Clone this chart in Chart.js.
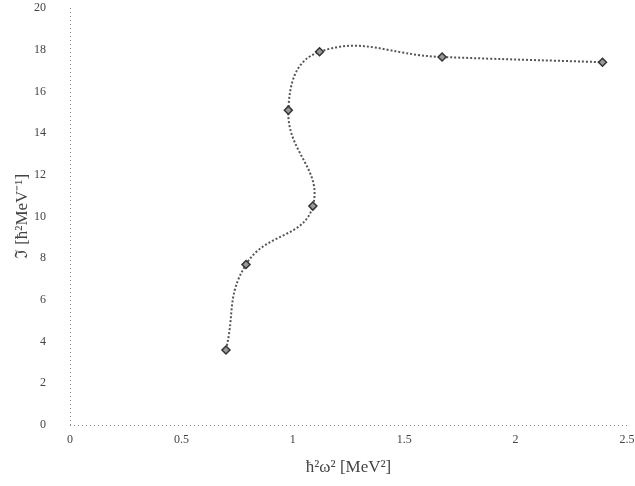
<!DOCTYPE html>
<html>
<head>
<meta charset="utf-8">
<script src="https://cdn.jsdelivr.net/npm/chart.js@4/dist/chart.umd.min.js"></script>
<style>
    html, body { margin: 0; padding: 0; background: #fff; }
    #wrap { width: 635px; height: 486px; }
</style>
</head>
<body>
<div id="wrap"><canvas id="chart"></canvas></div>
<script>
// 데이터
const omegaSq = [0.70, 0.79, 1.09, 0.98, 1.12, 1.67, 2.39];
const inertia = [3.6, 7.7, 10.5, 15.1, 17.9, 17.65, 17.4];
const xTicks = [0, 0.5, 1, 1.5, 2, 2.5];
const yTicks = [0, 2, 4, 6, 8, 10, 12, 14, 16, 18, 20];

const xTitle = 'ħ²ω² [MeV²]';
const yTitle = 'ℑ [ħ²MeV⁻¹]';

const points = omegaSq.map((x, i) => ({ x: x, y: inertia[i] }));

const tickFont = { family: 'Liberation Serif', size: 12 };
const titleFont = { family: 'Liberation Serif', size: 17 };

// 점선 축 그리기
const dottedAxes = {
    id: 'dottedAxes',
    beforeDatasetsDraw(chart) {
        const { ctx, chartArea: a } = chart;
        ctx.save();
        ctx.strokeStyle = '#888';
        ctx.lineWidth = 1;
        ctx.setLineDash([1, 3]);
        ctx.beginPath();
        ctx.moveTo(a.left + 0.5, a.top);
        ctx.lineTo(a.left + 0.5, a.bottom);
        ctx.moveTo(a.left, a.bottom + 0.5);
        ctx.lineTo(a.right, a.bottom + 0.5);
        ctx.stroke();
        ctx.restore();
    }
};

const ctx = document.getElementById('chart').getContext('2d');

new Chart(ctx, {
    type: 'scatter',
    data: {
        datasets: [{
            data: points,
            showLine: true,
            tension: 0.45,
            borderColor: '#555',
            borderWidth: 2,
            borderDash: [2, 2],
            pointStyle: 'rectRot',
            pointRadius: 4,
            pointBorderWidth: 1.5,
            pointBackgroundColor: '#999',
            pointBorderColor: '#333'
        }]
    },
    options: {
        responsive: true,
        maintainAspectRatio: false,
        animation: false,
        layout: { autoPadding: false, padding: { top: 8, right: 8, left: 0, bottom: 0 } },
        plugins: {
            legend: { display: false },
            tooltip: { enabled: false }
        },
        scales: {
            x: {
                type: 'linear',
                min: 0,
                max: 2.5,
                afterBuildTicks: axis => { axis.ticks = xTicks.map(v => ({ value: v })); },
                afterFit: axis => { axis.height = 61; axis.paddingLeft = 0; axis.paddingRight = 0; },
                grid: { display: false },
                border: { display: false },
                ticks: { color: '#444', font: tickFont, padding: 0, callback: v => String(v) },
                title: { display: true, text: xTitle, color: '#444', font: titleFont, padding: { top: 4, bottom: 8 } }
            },
            y: {
                type: 'linear',
                min: 0,
                max: 20,
                afterBuildTicks: axis => { axis.ticks = yTicks.map(v => ({ value: v })); },
                afterFit: axis => { axis.width = 70; axis.paddingTop = 0; axis.paddingBottom = 0; },
                grid: { display: false },
                border: { display: false },
                ticks: { color: '#444', font: tickFont, padding: 16 },
                title: { display: true, text: yTitle, color: '#444', font: titleFont, padding: { top: 12, bottom: 4 } }
            }
        }
    },
    plugins: [dottedAxes]
});
</script>
</body>
</html>
